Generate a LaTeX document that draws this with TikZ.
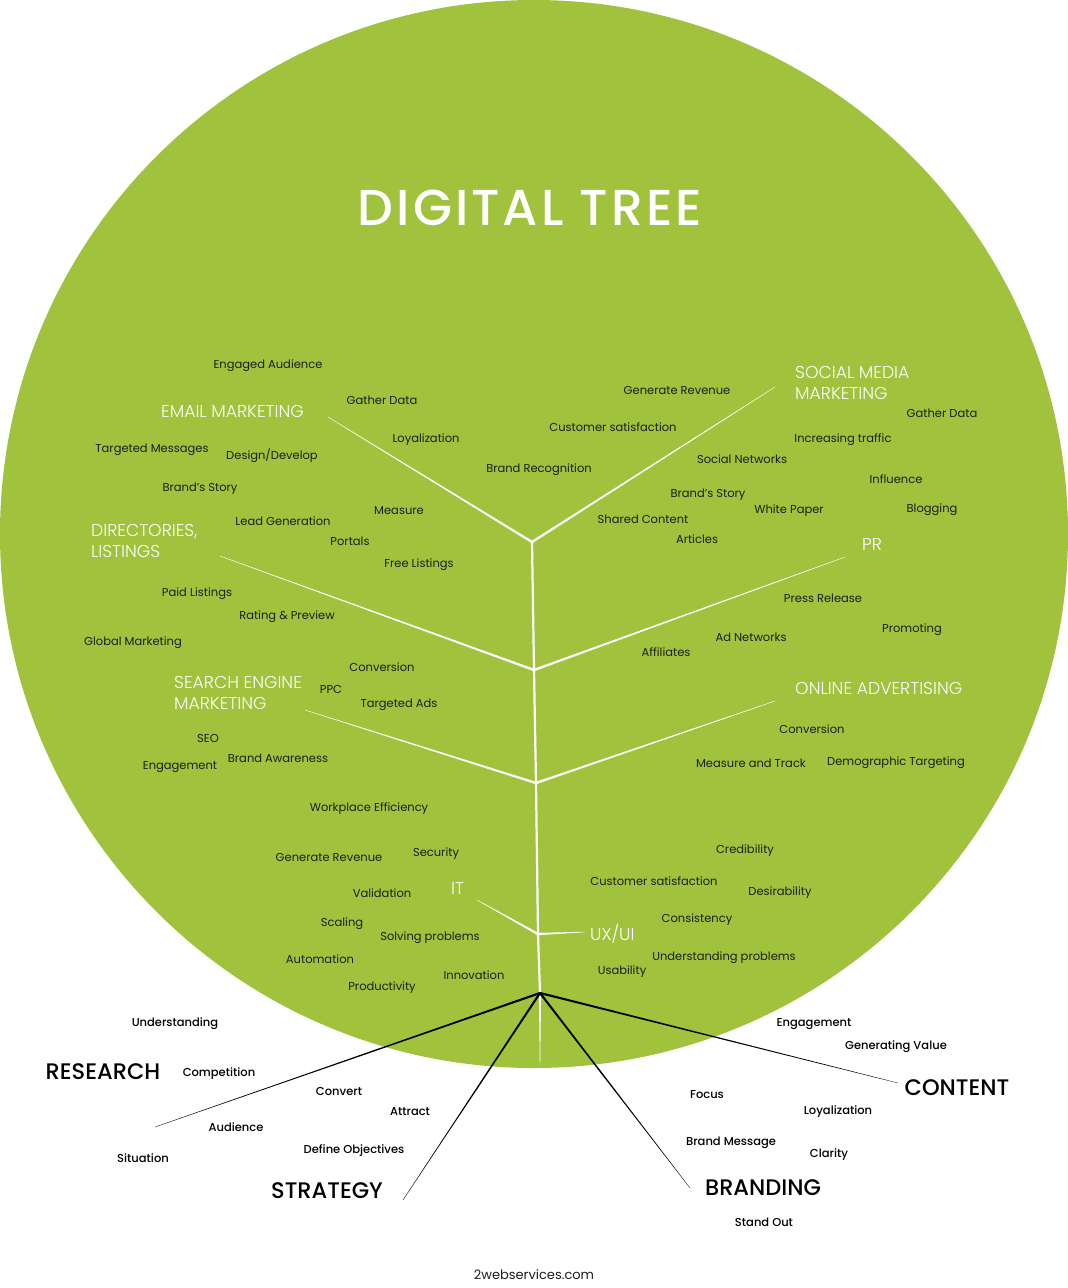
\documentclass[tikz,border=0pt]{standalone}
\usepackage{fontspec}
\setmainfont{Poppins}
\newfontfamily\poplight{Poppins Light}
\newfontfamily\popmed{Poppins Medium}
\newfontfamily\titlefont[LetterSpace=6]{Poppins Medium}
\usetikzlibrary{calc}
\definecolor{leaf}{HTML}{A0C23C}
\definecolor{ink}{HTML}{1E1E1C}
\begin{document}
\begin{tikzpicture}[x=1pt,y=-1pt,
  lbl/.style={font=\fontsize{11.5}{13}\selectfont, text=ink, inner sep=0pt},
  blk/.style={font=\popmed\fontsize{11.5}{13}\selectfont, text=black, inner sep=0pt},
  cat/.style={font=\poplight\fontsize{17.2}{21}\selectfont, text=white, inner sep=0pt, align=left, anchor=west},
  big/.style={font=\popmed\fontsize{22.5}{26}\selectfont, text=black, inner sep=0pt},
]
\useasboundingbox (0,0) rectangle (1068,1288);
\fill[leaf] (534,534) circle[radius=534pt];

% title
\node[font=\titlefont\fontsize{50.5}{56}\selectfont, text=white, inner sep=0pt] (title) at (530,208) {DIGITAL TREE};

% junctions and ends
\coordinate (j1) at (532,542);
\coordinate (j2) at (534,670);
\coordinate (j3) at (536,783);
\coordinate (j4) at (538,934);
\coordinate (r0) at (540,993);
\coordinate (base) at (540,1065);
\coordinate (eEmail) at (328,417);
\coordinate (eSocial) at (775,387);
\coordinate (eDir) at (220,556);
\coordinate (ePR) at (845,557);
\coordinate (eSEM) at (305,710);
\coordinate (eOA) at (775,701);
\coordinate (eIT) at (477,900);
\coordinate (eUX) at (585,932);
\coordinate (eRes) at (155,1127);
\coordinate (eStr) at (403,1200);
\coordinate (eBra) at (690,1188);
\coordinate (eCon) at (898,1083);

% trunk
\draw[white, line width=2.2pt, line join=round] (r0) -- (j4) -- (j3) -- (j2) -- (j1);
\fill[white] ($(r0)!1.1pt!90:(base)$) -- ($(base)!0.2pt!-90:(r0)$) -- ($(base)!0.2pt!90:(r0)$) -- ($(r0)!1.1pt!-90:(base)$) -- cycle;

% white branches (tapered)
\foreach \j/\e in {j1/eEmail, j1/eSocial, j2/eDir, j2/ePR, j3/eSEM, j3/eOA, j4/eIT, j4/eUX} {
  \fill[white] ($(\j)!1.2pt!90:(\e)$) -- ($(\e)!0.2pt!-90:(\j)$) -- ($(\e)!0.2pt!90:(\j)$) -- ($(\j)!1.2pt!-90:(\e)$) -- cycle;
}

% black roots (tapered)
\foreach \e in {eRes, eStr, eBra, eCon} {
  \fill[black] ($(r0)!1.1pt!90:(\e)$) -- ($(\e)!0.15pt!-90:(r0)$) -- ($(\e)!0.15pt!90:(r0)$) -- ($(r0)!1.1pt!-90:(\e)$) -- cycle;
}

% category labels (white)
\node[cat] (cEmail) at (161,411) {EMAIL MARKETING};
\node[cat] (cSocial) at (795,382.5) {SOCIAL MEDIA\\MARKETING};
\node[cat] (cDir) at (91,540.5) {DIRECTORIES,\\LISTINGS};
\node[cat] (cPR) at (862,544) {PR};
\node[cat] (cSEM) at (174,692.5) {SEARCH ENGINE\\MARKETING};
\node[cat] (cOA) at (795,688) {ONLINE ADVERTISING};
\node[cat] (cIT) at (451,888) {IT};
\node[cat] (cUX) at (590,934) {UX/UI};

% labels upper left
\node[lbl] (l1) at (268,366) {Engaged Audience};
\node[lbl] (l2) at (382,400) {Gather Data};
\node[lbl] (l3) at (426,440) {Loyalization};
\node[lbl] (l4) at (152,450) {Targeted Messages};
\node[lbl] (l5) at (272,456) {Design/Develop};
\node[lbl] (l6) at (539,470) {Brand Recognition};
\node[lbl] (l7) at (200,489) {Brand’s Story};
\node[lbl] (l8) at (283,521) {Lead Generation};
\node[lbl] (l9) at (399,511) {Measure};
\node[lbl] (l10) at (350,541) {Portals};
\node[lbl] (l11) at (419,565) {Free Listings};
\node[lbl] (l12) at (197,594) {Paid Listings};
\node[lbl] (l13) at (287,617) {Rating \& Preview};
\node[lbl] (l14) at (133,643) {Global Marketing};

% labels upper right
\node[lbl] (r1) at (677,390) {Generate Revenue};
\node[lbl] (r2) at (942,413) {Gather Data};
\node[lbl] (r3) at (613,427) {Customer satisfaction};
\node[lbl] (r4) at (843,440) {Increasing traffic};
\node[lbl] (r5) at (742,459) {Social Networks};
\node[lbl] (r6) at (896,479) {Influence};
\node[lbl] (r7) at (708,495) {Brand’s Story};
\node[lbl] (r8) at (789,511) {White Paper};
\node[lbl] (r9) at (932,510) {Blogging};
\node[lbl] (r10) at (643,519) {Shared Content};
\node[lbl] (r11) at (697,539) {Articles};
\node[lbl] (r12) at (823,598) {Press Release};
\node[lbl] (r13) at (912,630) {Promoting};
\node[lbl] (r14) at (751,637) {Ad Networks};
\node[lbl] (r15) at (666,652) {Affiliates};

% labels middle left
\node[lbl] (m1) at (382,667) {Conversion};
\node[lbl] (m2) at (331,689) {PPC};
\node[lbl] (m3) at (399,705) {Targeted Ads};
\node[lbl] (m4) at (208,738) {SEO};
\node[lbl] (m5) at (278,758) {Brand Awareness};
\node[lbl] (m6) at (180,767) {Engagement};
\node[lbl] (m7) at (369,809) {Workplace Efficiency};
\node[lbl] (m8) at (329,857) {Generate Revenue};
\node[lbl] (m9) at (436,854) {Security};
\node[lbl] (m10) at (382,893) {Validation};
\node[lbl] (m11) at (342,924) {Scaling};
\node[lbl] (m12) at (430,938) {Solving problems};
\node[lbl] (m13) at (320,959) {Automation};
\node[lbl] (m14) at (474,975) {Innovation};
\node[lbl] (m15) at (382,988) {Productivity};

% labels middle right
\node[lbl] (n1) at (812,729) {Conversion};
\node[lbl] (n2) at (751,763) {Measure and Track};
\node[lbl] (n3) at (896,763) {Demographic Targeting};
\node[lbl] (n4) at (745,851) {Credibility};
\node[lbl] (n5) at (654,881) {Customer satisfaction};
\node[lbl] (n6) at (780,893) {Desirability};
\node[lbl] (n7) at (697,920) {Consistency};
\node[lbl] (n8) at (724,958) {Understanding problems};
\node[lbl] (n9) at (622,972) {Usability};

% bottom left
\node[big] (bRes) at (103,1072) {RESEARCH};
\node[big] (bStr) at (327,1191) {STRATEGY};
\node[blk] (b1) at (175,1024) {Understanding};
\node[blk] (b2) at (219,1074) {Competition};
\node[blk] (b3) at (339,1091) {Convert};
\node[blk] (b4) at (410,1112) {Attract};
\node[blk] (b5) at (236,1127) {Audience};
\node[blk] (b6) at (143,1158) {Situation};
\node[blk] (b7) at (354,1151) {Define Objectives};

% bottom right
\node[big] (bCon) at (957,1088) {CONTENT};
\node[big] (bBra) at (763,1188) {BRANDING};
\node[blk] (c1) at (814,1024) {Engagement};
\node[blk] (c2) at (896,1047) {Generating Value};
\node[blk] (c3) at (707,1095) {Focus};
\node[blk] (c4) at (838,1112) {Loyalization};
\node[blk] (c5) at (731,1143) {Brand Message};
\node[blk] (c6) at (829,1155) {Clarity};
\node[blk] (c7) at (764,1222) {Stand Out};

% footer
\node[font=\fontsize{13}{15}\selectfont, text=ink, inner sep=0pt] (foot) at (534,1275) {2webservices.com};
\end{tikzpicture}
\end{document}
